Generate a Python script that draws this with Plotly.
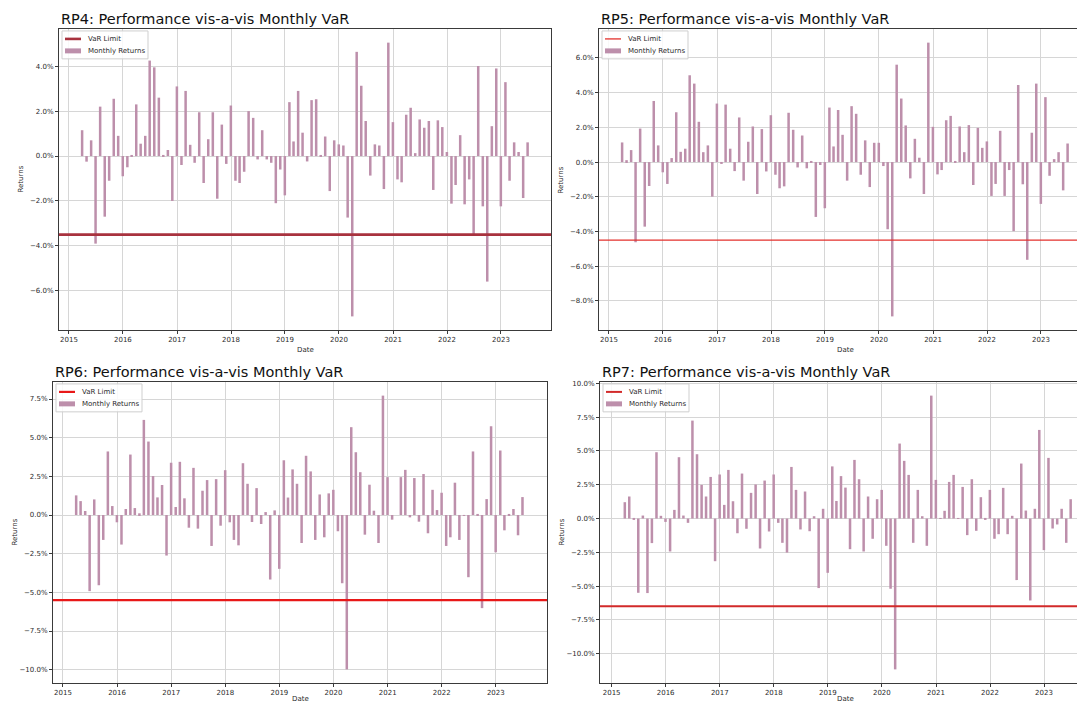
import plotly.graph_objects as go
import pandas as pd

# ---------------- data ----------------
dates = (pd.date_range("2015-03-01", periods=100, freq="MS") + pd.offsets.MonthEnd(0)).strftime("%Y-%m-%d").tolist()

rp4_returns = [
    1.15, -0.25, 0.7, -3.9, 2.2, -2.7, -1.1, 2.55, 0.9, -0.9,
    -0.5, 0.02, 2.3, 0.55, 0.9, 4.25, 3.95, 2.6, 0.05, 0.27,
    -2.0, 3.1, -0.4, 2.9, 0.5, -0.3, 1.95, -1.2, 0.75, 1.95,
    -1.9, 1.4, -0.35, 2.25, -1.1, -1.2, -0.7, 2.0, 1.7, -0.15,
    1.15, -0.15, -0.3, -2.1, -0.6, -1.75, 2.4, 0.65, 2.9, 1.04,
    -0.24, 2.49, 2.53, 0.03, 0.87, -1.56, 0.70, 0.52, 0.47, -2.74,
    -7.14, 4.64, 3.13, 1.56, -0.87, 0.52, 0.47, -1.47, 5.05, 1.51,
    -1.04, -1.17, 1.84, 2.15, 0.13, 1.63, 1.26, 1.56, -1.51, 1.59,
    1.29, 0.18, -2.12, -1.29, 0.93, -2.15, -1.04, -3.5, 4.01, -2.24,
    -5.59, 1.33, 3.9, -2.24, 3.29, -1.1, 0.61, 0.18, -1.87, 0.61,
]
rp5_returns = [
    1.13, 0.11, 0.69, -4.62, 1.93, -3.72, -1.38, 3.52, 0.96, -0.59,
    -1.26, 0.23, 2.87, 0.59, 0.77, 5.0, 4.52, 2.32, 0.57, 0.96,
    -1.99, 3.37, -0.06, 3.31, 0.77, -0.52, 2.57, -1.07, 1.17, 2.05,
    -1.84, 1.9, -0.54, 2.7, -0.73, -1.51, -1.4, 2.84, 1.86, -0.31,
    1.53, -0.36, 0.02, -3.16, -0.17, -2.66, 3.14, 0.9, 3.0, 1.57,
    -1.07, 3.22, 2.78, -0.73, 1.25, -1.44, 1.11, 1.11, -0.23, -3.87,
    -8.89, 5.61, 3.66, 2.11, -0.94, 1.34, 0.25, -1.84, 6.88, 2.03,
    -0.71, -0.46, 2.41, 2.66, 0.06, 2.05, 0.57, 2.13, -1.32, 1.97,
    0.82, 1.19, -1.95, -1.26, 1.8, -1.95, -0.46, -3.98, 4.44, -1.28,
    -5.63, 1.69, 4.52, -2.41, 3.74, -0.79, 0.17, 0.57, -1.63, 1.07,
]
rp6_returns = [
    1.27, 0.9, 0.26, -4.92, 1.01, -4.54, -1.61, 4.11, 0.58, -0.47,
    -1.91, 0.39, 3.91, 0.45, 0.11, 6.15, 4.75, 2.52, 1.14, 1.94,
    -2.62, 3.38, 0.52, 3.44, 1.08, -0.82, 3.05, -0.88, 1.57, 2.26,
    -2.0, 2.32, -0.69, 2.9, -0.47, -1.61, -1.96, 3.35, 2.02, -0.45,
    1.74, -0.58, 0.19, -4.17, 0.3, -3.48, 3.54, 1.13, 2.95, 2.02,
    -1.81, 3.83, 2.82, -1.61, 1.33, -1.44, 1.4, 1.63, -1.05, -4.41,
    -9.98, 5.68, 4.06, 2.77, -1.27, 1.96, 0.28, -1.81, 7.72, 2.45,
    -0.3, 0.0, 2.45, 2.92, -0.15, 2.39, -0.43, 2.65, -1.18, 1.63,
    0.32, 1.44, -2.0, -1.44, 2.09, -1.61, -0.05, -4.02, 4.11, 0.02,
    -6.02, 1.03, 5.74, -2.41, 4.17, -0.99, 0.02, 0.39, -1.31, 1.16,
]
rp7_returns = [
    1.21, 1.63, -0.1, -5.5, 0.22, -5.52, -1.82, 4.91, 0.2, -0.25,
    -2.44, 0.64, 4.54, 0.22, -0.32, 7.25, 4.76, 2.49, 1.63, 3.08,
    -3.16, 3.26, 1.01, 3.6, 1.28, -1.09, 3.33, -0.76, 1.9, 2.52,
    -2.22, 2.81, -0.96, 3.26, -0.32, -1.8, -2.52, 3.82, 2.12, -0.81,
    2.0, -0.94, 0.17, -5.15, 0.72, -4.02, 3.86, 1.3, 3.14, 2.29,
    -2.27, 4.34, 2.91, -2.44, 1.63, -1.5, 1.43, 2.12, -2.02, -5.2,
    -11.17, 5.55, 4.27, 3.23, -1.8, 2.12, 0.17, -2.02, 9.1, 2.86,
    0.02, 0.57, 2.71, 3.23, 0.02, 2.34, -1.23, 2.91, -0.91, 1.58,
    -0.07, 2.12, -1.5, -1.16, 2.27, -1.16, 0.2, -4.56, 4.07, 0.59,
    -6.07, 0.72, 6.56, -2.34, 4.49, -0.74, -0.44, 0.72, -1.8, 1.43,
]

portfolios = ["RP4", "RP5", "RP6", "RP7"]
returns = {"RP4": rp4_returns, "RP5": rp5_returns, "RP6": rp6_returns, "RP7": rp7_returns}
var_limits = {"RP4": -3.5, "RP5": -4.5, "RP6": -5.5, "RP7": -6.5}
y_ticks = {
    "RP4": [-6, -4, -2, 0, 2, 4],
    "RP5": [-8, -6, -4, -2, 0, 2, 4, 6],
    "RP6": [-10, -7.5, -5, -2.5, 0, 2.5, 5, 7.5],
    "RP7": [-10, -7.5, -5, -2.5, 0, 2.5, 5, 7.5, 10],
}
x_tick_years = [2015, 2016, 2017, 2018, 2019, 2020, 2021, 2022, 2023]
legend_labels = ["VaR Limit", "Monthly Returns"]

# ---------------- styling / layout ----------------
OFF = 8                      # browser default body margin
W, H = 1085, 706             # window size
FW, FH = W - OFF, H - OFF    # figure size
BAR_COLOR = "#bd8fab"
FONT = "DejaVu Sans"
TXT = "#2b2b2b"


def PX(px):
    return (px - OFF) / FW


def PY(py):
    return 1 - (py - OFF) / FH


# pixel boxes (window coords): left, right, top, bottom ; x-range in fractional years
boxes = {
    "RP4": dict(l=59, r=551, t=27, b=329, x0=2014.815, x1=2023.926, cut=False),
    "RP5": dict(l=599, r=1085, t=27, b=329, x0=2014.815, x1=2023.815, cut=True),
    "RP6": dict(l=53, r=547, t=381, b=683, x0=2014.815, x1=2023.946, cut=False),
    "RP7": dict(l=600, r=1085, t=381, b=683, x0=2014.784, x1=2023.758, cut=True),
}
line_styles = {
    "RP4": dict(color="#a8323e", width=2.6),
    "RP5": dict(color="#e3302c", width=1.3),
    "RP6": dict(color="#e81818", width=2.2),
    "RP7": dict(color="#d22a2a", width=2.0),
}


def frac_year(v):
    y = int(v)
    return (pd.Timestamp(f"{y}-01-01") + pd.Timedelta(days=(v - y) * 365.25)).strftime("%Y-%m-%d %H:%M")


def fmt(v):
    s = f"{abs(v):.1f}%"
    return ("\u2212" + s) if v < 0 else s


fig = go.Figure()
annotations = []
shapes = []

for i, p in enumerate(portfolios):
    n = i + 1
    xa = "x" if n == 1 else f"x{n}"
    ya = "y" if n == 1 else f"y{n}"
    bx = boxes[p]
    vals = returns[p]

    fig.add_trace(go.Bar(
        x=dates, y=vals, name=legend_labels[1], marker_color=BAR_COLOR,
        marker_line_width=0, width=17 * 86400000, xaxis=xa, yaxis=ya, showlegend=False,
    ))
    shapes.append(dict(
        type="line", xref=f"{xa} domain", x0=0, x1=1, yref=ya,
        y0=var_limits[p], y1=var_limits[p], line=line_styles[p], layer="above",
    ))

    ymin, ymax = min(vals), max(vals)
    pad = (ymax - ymin) * 0.05
    xdom = [PX(bx["l"]), min(1.0, PX(bx["r"]))]
    ydom = [PY(bx["b"]), PY(bx["t"])]

    axis_common = dict(
        showgrid=True, gridcolor="#d6d6d6", gridwidth=0.9,
        showline=True, linecolor="#3a3a3a", linewidth=1,
        ticks="outside", ticklen=3, tickcolor="#3a3a3a", tickwidth=0.8,
        tickfont=dict(family=FONT, size=7, color=TXT), zeroline=False,
    )
    fig.layout[f"xaxis{'' if n == 1 else n}"] = dict(
        axis_common, domain=xdom, anchor=ya, type="date",
        range=[frac_year(bx["x0"]), frac_year(bx["x1"])],
        tickvals=[f"{y}-01-01" for y in x_tick_years],
        ticktext=[str(y) for y in x_tick_years], mirror=True,
    )
    fig.layout[f"yaxis{'' if n == 1 else n}"] = dict(
        axis_common, domain=ydom, anchor=xa,
        range=[ymin - pad, ymax + pad],
        tickvals=y_ticks[p], ticktext=[fmt(v) for v in y_ticks[p]],
        mirror=not bx["cut"],
    )

    # ---- hand-drawn compact legend (matplotlib style) ----
    lx0, ly0 = bx["l"] + 3, bx["t"] + 2
    lx1, ly1 = lx0 + 86, ly0 + 28
    shapes.append(dict(
        type="rect", xref="paper", yref="paper", x0=PX(lx0), x1=PX(lx1), y0=PY(ly1), y1=PY(ly0),
        line=dict(color="#cfcfcf", width=1), fillcolor="rgba(255,255,255,0.85)", layer="above",
    ))
    shapes.append(dict(
        type="line", xref="paper", yref="paper", x0=PX(lx0 + 3), x1=PX(lx0 + 19),
        y0=PY(ly0 + 8), y1=PY(ly0 + 8), line=line_styles[p], layer="above",
    ))
    shapes.append(dict(
        type="rect", xref="paper", yref="paper", x0=PX(lx0 + 3), x1=PX(lx0 + 19),
        y0=PY(ly0 + 22.5), y1=PY(ly0 + 17.5), line=dict(width=0), fillcolor=BAR_COLOR, layer="above",
    ))
    for txt, yy in zip(legend_labels, [ly0 + 8, ly0 + 20]):
        annotations.append(dict(
            text=txt, xref="paper", yref="paper", x=PX(lx0 + 24), y=PY(yy),
            xanchor="left", yanchor="middle", showarrow=False,
            font=dict(family=FONT, size=7, color=TXT),
        ))

    # title
    annotations.append(dict(
        text=f"{p}: Performance vis-a-vis Monthly VaR", xref="paper", yref="paper",
        x=PX(bx["l"]), y=PY(bx["t"]), xanchor="left", yanchor="bottom", yshift=0,
        showarrow=False, font=dict(family=FONT, size=14.5, color="#111111"),
    ))
    # y label
    annotations.append(dict(
        text="Returns", xref="paper", yref="paper",
        x=PX(bx["l"] - 38), y=PY((bx["t"] + bx["b"]) / 2),
        xanchor="center", yanchor="middle", textangle=-90, showarrow=False,
        font=dict(family=FONT, size=7, color=TXT),
    ))
    # x label
    cx = (bx["l"] + (bx["r"] if not bx["cut"] else bx["l"] + 492)) / 2
    annotations.append(dict(
        text="Date", xref="paper", yref="paper",
        x=PX(cx), y=PY(min(bx["b"] + 20, 699)),
        xanchor="center", yanchor="middle", showarrow=False,
        font=dict(family=FONT, size=7, color=TXT),
    ))

fig.update_layout(
    width=FW, height=FH, margin=dict(l=0, r=0, t=0, b=0),
    paper_bgcolor="white", plot_bgcolor="white",
    barmode="overlay", annotations=annotations, shapes=shapes,
    font=dict(family=FONT, size=7, color=TXT), showlegend=False,
)

fig.write_html("out.html")
